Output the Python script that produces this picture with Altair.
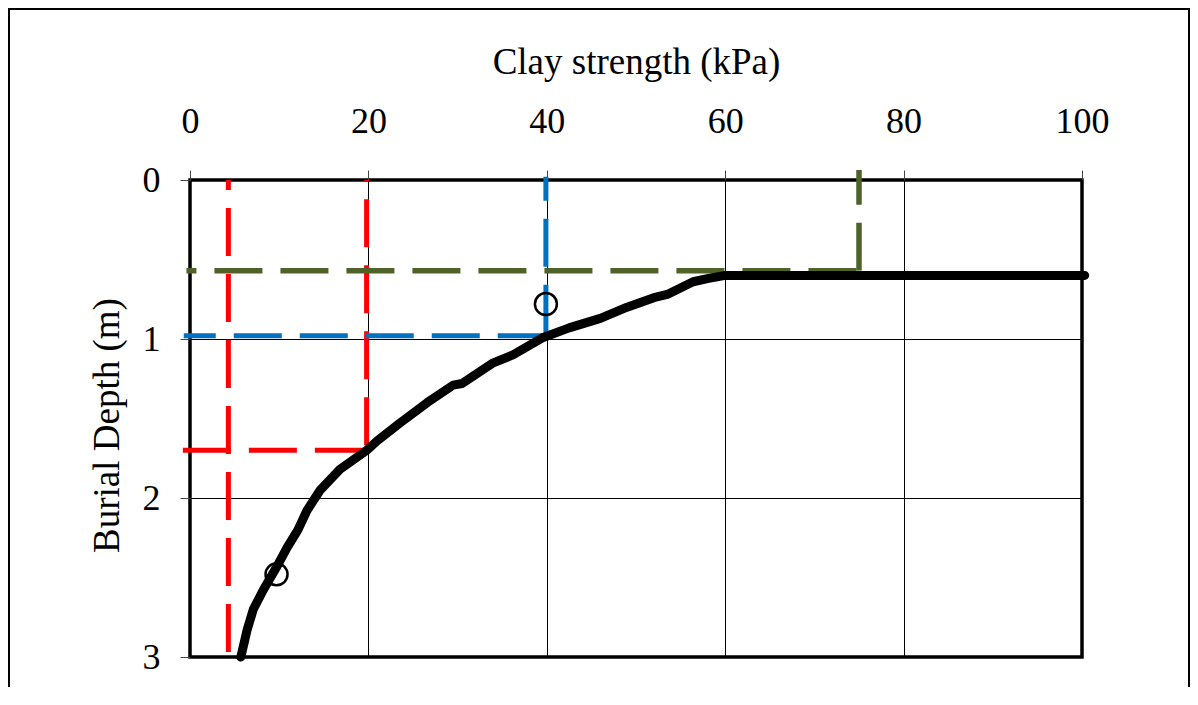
import altair as alt
import pandas as pd

# ---- data ----
curve_strength = [100.3, 60.0, 58.0, 56.4, 53.5, 52.0, 49.0, 46.0, 42.5, 39.6, 36.2, 34.0,
                  30.5, 29.5, 26.6, 23.5, 21.0, 19.8, 16.8, 14.6, 13.1, 12.1, 10.9, 9.75,
                  8.2, 7.1, 6.4, 5.7]
curve_depth = [0.60, 0.60, 0.62, 0.64, 0.72, 0.74, 0.80, 0.87, 0.93, 0.99, 1.10, 1.15,
               1.28, 1.29, 1.40, 1.53, 1.64, 1.70, 1.82, 1.95, 2.08, 2.20, 2.31, 2.43,
               2.58, 2.70, 2.83, 3.00]

circle_strength = [39.9, 9.7]
circle_depth = [0.78, 2.48]

# dashed guide segments: (x1, y1) -> (x2, y2)
red_x1 = [4.3, -0.8, 19.8]
red_y1 = [0.0, 1.70, 1.70]
red_x2 = [4.3, 19.8, 19.8]
red_y2 = [3.0, 1.70, 0.0]

blue_x1 = [-0.7, 39.9]
blue_y1 = [0.98, 0.98]
blue_x2 = [39.9, 39.9]
blue_y2 = [0.98, -0.02]

green_x1 = [-0.4, 75.0]
green_y1 = [0.57, 0.57]
green_x2 = [75.0, 75.0]
green_y2 = [0.57, -0.063]

x_ticks = [0, 20, 40, 60, 80, 100]
y_ticks = [0, 1, 2, 3]

FONT = "Liberation Serif"

x_axis = alt.Axis(orient="top", values=x_ticks, title="Clay strength (kPa)",
                  grid=True, gridColor="black", gridWidth=1, domain=False,
                  tickSize=10, tickColor="#444444", tickWidth=1, labelFlush=False,
                  labelFont=FONT, labelFontSize=36, labelColor="black", labelPadding=30,
                  titleFont=FONT, titleFontSize=37, titleFontWeight="normal",
                  titleColor="black", titleBaseline="alphabetic", titleY=-107)
y_axis = alt.Axis(values=y_ticks, title="Burial Depth (m)",
                  grid=True, gridColor="black", gridWidth=1, domain=False,
                  tickSize=10, tickColor="#444444", tickWidth=1, labelFlush=False,
                  labelFont=FONT, labelFontSize=36, labelColor="black", labelPadding=20,
                  titleFont=FONT, titleFontSize=37, titleFontWeight="normal",
                  titleColor="black", titleBaseline="alphabetic", titleX=-72, titleY=245,
                  titleAngle=270)
x_scale = alt.Scale(domain=[0, 100], nice=False, zero=False)
y_scale = alt.Scale(domain=[0, 3], nice=False, zero=False, reverse=True)


def X(f):
    return alt.X(f, type="quantitative", scale=x_scale, axis=x_axis)


def Y(f):
    return alt.Y(f, type="quantitative", scale=y_scale, axis=y_axis)


curve_df = pd.DataFrame({"s": curve_strength, "d": curve_depth,
                         "i": list(range(len(curve_strength)))})
circ_df = pd.DataFrame({"s": circle_strength, "d": circle_depth})

dash = [48, 18]


def seg_layer(x1, y1, x2, y2, k, color, width, offset):
    df = pd.DataFrame({"s": [x1[k]], "d": [y1[k]], "s2": [x2[k]], "d2": [y2[k]]})
    return alt.Chart(df).mark_rule(color=color, strokeWidth=width, strokeDash=dash,
                                   strokeDashOffset=offset, strokeCap="butt").encode(
        x=X("s"), y=Y("d"), x2="s2", y2="d2")


RED = "#FF0000"
BLUE = "#0070C0"
GREEN = "#4F6228"

layers = [
    seg_layer(red_x1, red_y1, red_x2, red_y2, 0, RED, 5, 38),
    seg_layer(red_x1, red_y1, red_x2, red_y2, 1, RED, 5, 0),
    seg_layer(red_x1, red_y1, red_x2, red_y2, 2, RED, 5, 61),
    seg_layer(blue_x1, blue_y1, blue_x2, blue_y2, 0, BLUE, 5, 16),
    seg_layer(blue_x1, blue_y1, blue_x2, blue_y2, 1, BLUE, 5, 63),
    seg_layer(green_x1, green_y1, green_x2, green_y2, 0, GREEN, 5.5, 38),
    seg_layer(green_x1, green_y1, green_x2, green_y2, 1, GREEN, 5.5, 0),
    alt.Chart(curve_df).mark_line(color="black", strokeWidth=9,
                                  strokeJoin="round", strokeCap="round").encode(
        x=X("s"), y=Y("d"), order=alt.Order("i:Q")),
    alt.Chart(circ_df).mark_point(shape="circle", filled=False, color="black",
                                  strokeWidth=2.5, size=484, opacity=1).encode(
        x=X("s"), y=Y("d")),
]

frame_df = pd.DataFrame({"k": [0]})
outer = alt.Chart(frame_df).mark_rect(fill=None, stroke="black", strokeWidth=2).encode(
    x=alt.value(-181), x2=alt.value(999), y=alt.value(-171), y2=alt.value(560))

chart = alt.layer(*layers, outer).properties(
    width=892, height=477,
    background="white",
    autosize=alt.AutoSizeParams(type="none"),
    padding={"left": 182, "top": 172, "right": 108, "bottom": 30},
).configure_view(stroke="black", strokeWidth=3.5, fill="white")

chart.save("out.html", embed_options={"renderer": "svg", "actions": False})
